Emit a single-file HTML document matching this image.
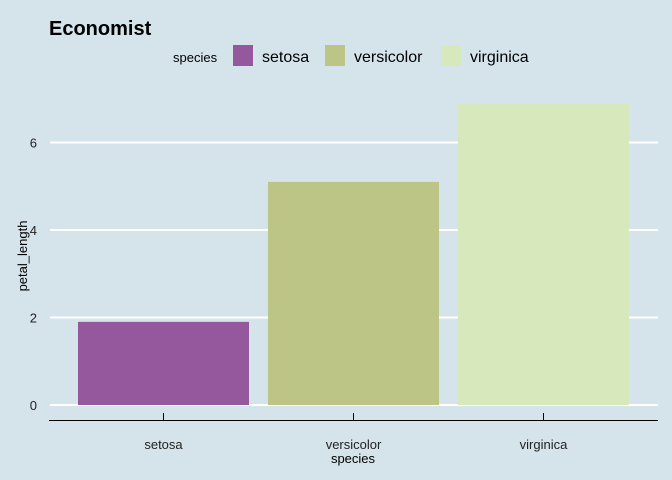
<!DOCTYPE html>
<html><head><meta charset="utf-8"><style>
body{margin:0;background:#d5e4eb;}
svg{display:block;font-family:"Liberation Sans",Arial,sans-serif;}
</style></head><body>
<svg id="chart" width="672" height="480" viewBox="0 0 672 480">
<rect x="0" y="0" width="672" height="480" fill="#d5e4eb"/>
<text x="49" y="35" font-size="20" font-weight="bold" fill="#000">Economist</text>
<g>
<text x="173" y="62" font-size="13" fill="#000">species</text>
<rect x="233" y="45" width="20" height="21" fill="#96589c"/>
<text x="262" y="62" font-size="16" fill="#000">setosa</text>
<rect x="325" y="45" width="20" height="21" fill="#bdc586"/>
<text x="354" y="62" font-size="16" fill="#000">versicolor</text>
<rect x="441" y="45" width="20" height="21" fill="#d8e8bd"/>
<text x="470" y="62" font-size="16" fill="#000">virginica</text>
</g>
<g id="grid"></g>
<g id="bars"></g>
<g id="axes"></g>
<text transform="translate(27,256) rotate(-90)" text-anchor="middle" font-size="13" fill="#000">petal_length</text>
<text x="353" y="463" text-anchor="middle" font-size="13" fill="#000">species</text>
</svg>
<script>
const categories=["setosa","versicolor","virginica"];
const values=[1.9,5.1,6.9];
const colors=["#96589c","#bdc586","#d8e8bd"];
const yTicks=[0,2,4,6];
const NS="http://www.w3.org/2000/svg";
const y0=405, pxPerUnit=43.75;
function y(v){return y0-v*pxPerUnit;}
const bandStart=68, band=190;
function x(i){return bandStart+i*band;}
function mk(tag,attrs,parent){const e=document.createElementNS(NS,tag);for(const k in attrs)e.setAttribute(k,attrs[k]);parent.appendChild(e);return e;}
const grid=document.getElementById('grid'),bars=document.getElementById('bars'),axes=document.getElementById('axes');
yTicks.forEach(t=>{
  const l=mk('line',{x1:50,x2:658,y1:y(t),y2:y(t),stroke:'#fff','stroke-width':2},grid);
  
  
  const tx=mk('text',{x:37,y:y(t)+5,'text-anchor':'end','font-size':13,fill:'#222'},axes);
  tx.textContent=t;
  
  
});
categories.forEach((c,i)=>{
  const r=mk('rect',{x:x(i)+10,y:y(values[i]),width:171,height:y(0)-y(values[i]),fill:colors[i]},bars);
  
  
  const cx=x(i)+95.5;
  const tk=mk('line',{x1:cx,x2:cx,y1:413,y2:421,stroke:'#000','stroke-width':1},axes);
  
  
  const lb=mk('text',{x:cx,y:449,'text-anchor':'middle','font-size':13,fill:'#222'},axes);
  lb.textContent=c;
  
  
});
const ax=mk('line',{x1:49,x2:658,y1:420.5,y2:420.5,stroke:'#000','stroke-width':1},axes);


</script>
</body></html>
